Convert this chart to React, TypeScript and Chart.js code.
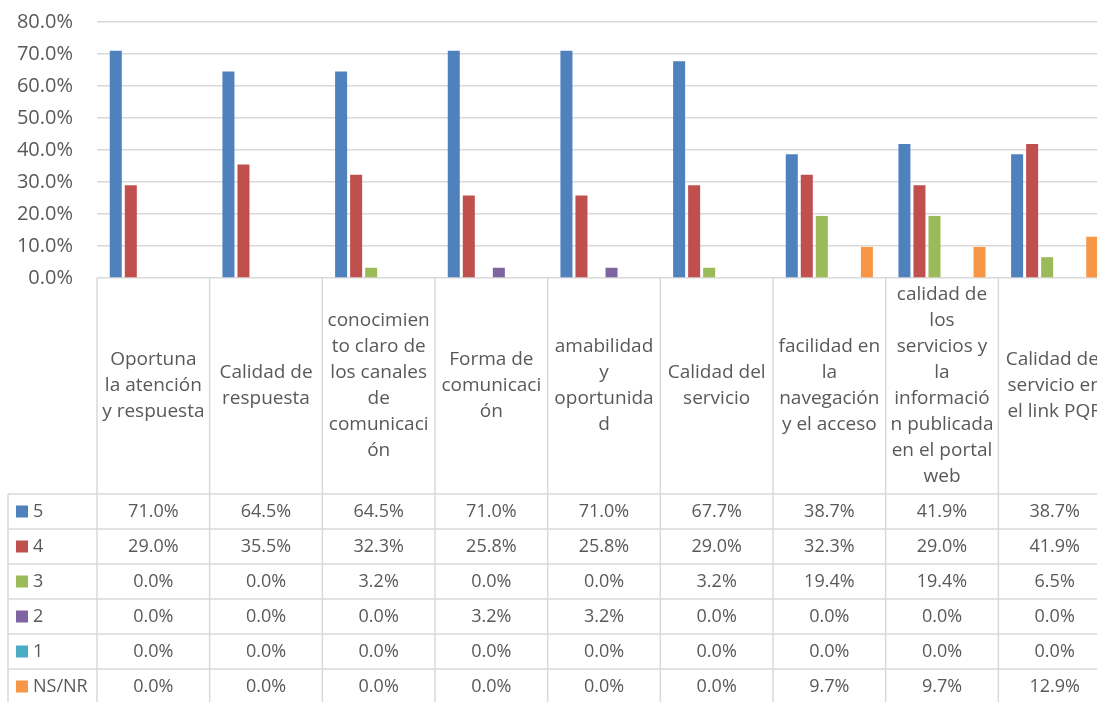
import React, { useEffect, useRef } from "react";
import { Chart, registerables } from "chart.js";

Chart.register(...registerables);

const categories: string[][] = [
  ["Oportuna", "la atención", "y respuesta"],
  ["Calidad de", "respuesta"],
  ["conocimien", "to claro de", "los canales", "de", "comunicaci", "ón"],
  ["Forma de", "comunicaci", "ón"],
  ["amabilidad", "y", "oportunida", "d"],
  ["Calidad del", "servicio"],
  ["facilidad en", "la", "navegación", "y el acceso"],
  ["calidad de", "los", "servicios y", "la", "informació", "n publicada", "en el portal", "web"],
  ["Calidad del", "servicio en", "el link PQR"],
];

const seriesNames = ["5", "4", "3", "2", "1", "NS/NR"];
const s5 = [71.0, 64.5, 64.5, 71.0, 71.0, 67.7, 38.7, 41.9, 38.7];
const s4 = [29.0, 35.5, 32.3, 25.8, 25.8, 29.0, 32.3, 29.0, 41.9];
const s3 = [0.0, 0.0, 3.2, 0.0, 0.0, 3.2, 19.4, 19.4, 6.5];
const s2 = [0.0, 0.0, 0.0, 3.2, 3.2, 0.0, 0.0, 0.0, 0.0];
const s1 = [0.0, 0.0, 0.0, 0.0, 0.0, 0.0, 0.0, 0.0, 0.0];
const sNS = [0.0, 0.0, 0.0, 0.0, 0.0, 0.0, 9.7, 9.7, 12.9];
const seriesColors = ["#4F81BD", "#C0504D", "#9BBB59", "#8064A2", "#4BACC6", "#F79646"];

const yMin = 0;
const yMax = 80;
const yStep = 10;

const FONT = "'Open Sans', 'Noto Sans', sans-serif";
const TEXT = "#595959";
const GRID = "#D9D9D9";

const tablePlugin = {
  id: "dataTable",
  afterDraw(chart: any) {
    const { ctx, chartArea } = chart;
    const n = categories.length;
    const w = (chartArea.right - chartArea.left) / n;
    const top = chartArea.bottom;
    const headerBottom = 494;
    const rowH = 35;
    const bottom = chart.height;
    const tableLeft = 8;
    const all = [s5, s4, s3, s2, s1, sNS];
    ctx.save();
    ctx.strokeStyle = GRID;
    ctx.lineWidth = 1.5;
    for (let i = 0; i <= n; i++) {
      const x = chartArea.left + i * w;
      ctx.beginPath();
      ctx.moveTo(x, top);
      ctx.lineTo(x, bottom);
      ctx.stroke();
    }
    ctx.beginPath();
    ctx.moveTo(tableLeft, headerBottom);
    ctx.lineTo(tableLeft, bottom);
    ctx.stroke();
    for (let r = 0; r <= all.length; r++) {
      const y = headerBottom + r * rowH;
      ctx.beginPath();
      ctx.moveTo(tableLeft, y);
      ctx.lineTo(chartArea.right, y);
      ctx.stroke();
    }
    ctx.fillStyle = TEXT;
    ctx.textAlign = "center";
    ctx.textBaseline = "middle";
    ctx.font = `19px ${FONT}`;
    const lh = 26;
    const midHeader = (top + headerBottom) / 2;
    categories.forEach((lines, i) => {
      const cx = chartArea.left + (i + 0.5) * w;
      const y0 = midHeader - ((lines.length - 1) * lh) / 2;
      lines.forEach((t, k) => ctx.fillText(t, cx, y0 + k * lh));
    });
    ctx.font = `18px ${FONT}`;
    all.forEach((vals, r) => {
      const cy = headerBottom + r * rowH + rowH / 2;
      vals.forEach((v, i) => {
        const cx = chartArea.left + (i + 0.5) * w;
        ctx.fillStyle = TEXT;
        ctx.textAlign = "center";
        ctx.fillText(v.toFixed(1) + "%", cx, cy);
      });
      ctx.fillStyle = seriesColors[r];
      ctx.fillRect(16, cy - 6, 12, 12);
      ctx.fillStyle = TEXT;
      ctx.textAlign = "left";
      ctx.fillText(seriesNames[r], 33, cy);
    });
    ctx.restore();
  },
};

export default function App() {
  const ref = useRef<HTMLCanvasElement>(null);
  useEffect(() => {
    if (!ref.current) return;
    const all = [s5, s4, s3, s2, s1, sNS];
    const chart = new Chart(ref.current, {
      type: "bar",
      data: {
        labels: categories.map((c) => c.join(" ")),
        datasets: all.map((d, i) => ({
          label: seriesNames[i],
          data: d,
          backgroundColor: seriesColors[i],
          borderWidth: 0,
          categoryPercentage: 0.8,
          barPercentage: 0.8,
        })),
      },
      options: {
        responsive: false,
        animation: false,
        layout: { padding: { top: 22, bottom: 424, left: 0, right: 9 } },
        plugins: { legend: { display: false }, tooltip: { enabled: false } },
        scales: {
          x: { display: false, offset: true },
          y: {
            min: yMin,
            max: yMax,
            ticks: {
              stepSize: yStep,
              padding: 24,
              color: TEXT,
              font: { size: 20, family: FONT },
              callback: (v: any) => Number(v).toFixed(1) + "%",
            },
            grid: { color: GRID, lineWidth: 1.5, drawTicks: false },
            border: { display: false },
            afterFit: (s: any) => {
              s.width = 97;
              s.paddingTop = 0;
              s.paddingBottom = 0;
            },
          },
        },
      },
      plugins: [tablePlugin],
    });
    return () => chart.destroy();
  }, []);
  return (
    <div style={{ position: "fixed", left: 0, top: 0, width: 1097, height: 702, overflow: "hidden", background: "#fff" }}>
      <canvas ref={ref} width={1120} height={702} style={{ display: "block" }} />
    </div>
  );
}
